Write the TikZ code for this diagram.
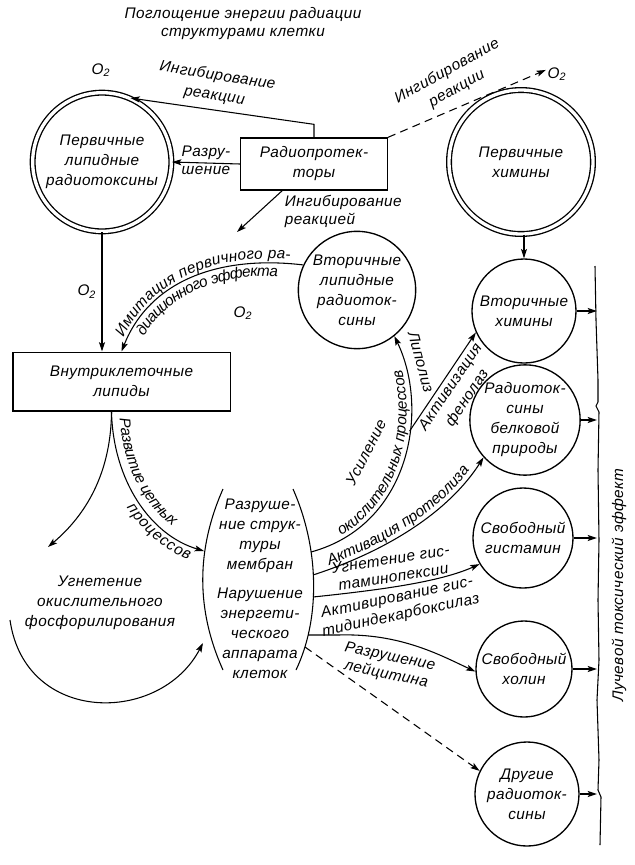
\documentclass[tikz,border=0pt]{standalone}
\usepackage{fontspec}
\setmainfont{Liberation Sans}[LetterSpace=3]
\usepackage{tikz}
\usetikzlibrary{arrows.meta, calc}
\usetikzlibrary{decorations.text}
\newcommand{\lblfont}{\fontsize{11.5}{15}\selectfont\itshape}
\newcommand{\tghtfont}{\fontsize{11.5}{13.5}\selectfont\itshape}

\begin{document}
\begin{tikzpicture}[% styles used in image code, units are pixels of the scan
           x = 0.75pt, y = -0.75pt,
  line width = 0.8pt,
           > = {Stealth[length=7pt, width=4.5pt, inset=1.5pt]},
   lbl/.style = {font=\lblfont, align=center, inner sep=1pt},
  tght/.style = {font=\tghtfont, align=center, inner sep=1pt},
  circ/.style = {circle, draw, line width=1pt, minimum size=#1,
                 inner sep=0pt, font=\lblfont, align=center},
 dcirc/.style = {circ=#1, double, double distance=2.5pt},
   box/.style = {draw, line width=1pt, font=\lblfont, align=center, inner sep=0pt},
 dashd/.style = {dash pattern=on 6pt off 4pt},
ontext/.style 2 args = {decorate,
                        decoration={text along path, text align=center,
                                    raise=#1, text={|\lblfont|#2}}}
                    ]
	\useasboundingbox (0,0) rectangle (635,865);

	% top row
	\node[lbl, font=\fontsize{11.5}{13.5}\selectfont\itshape] (title) at (243,24)
	     {Поглощение энергии радиации\\структурами клетки};
	\node[lbl] (o2a) at (101,70) {O\textsubscript{2}};
	\node[dcirc=104pt] (plr) at (102,162) {Первичные\\липидные\\радиотоксины};
	\node[box, minimum width=110pt, minimum height=39pt] (rp) at (314,164) {Радиопротек-\\торы};
	\node[dcirc=108pt] (phim) at (521,162) {Первичные\\химины};
	\node[lbl] (o2b) at (557,74) {O\textsubscript{2}};

	% circles on the right
	\node[circ=88pt] (vlr)  at (357,290) {Вторичные\\липидные\\радиоток-\\сины};
	\node[circ=78pt] (vhim) at (524,311) {Вторичные\\химины};
	\node[circ=78pt] (rbel) at (525,420) {Радиоток-\\сины\\белковой\\природы};
	\node[circ=75pt] (sgis) at (523,538) {Свободный\\гистамин};
	\node[circ=72pt] (shol) at (524,669) {Свободный\\холин};
	\node[circ=78pt] (drug) at (527,794) {Другие\\радиоток-\\сины};

	% left and middle
	\node[box, minimum width=163pt, minimum height=44pt] (vkl) at (121.5,381.5)
	     {Внутриклеточные\\липиды};
	\node[lbl] (o2c) at (243,313) {O\textsubscript{2}};
	\node[lbl] (ugn) at (100,603) {Угнетение\\окислительного\\фосфорилирования};
	\node[lbl] (mem) at (260,536) {Разруше-\\ние струк-\\туры\\мембран};
	\node[lbl] (nrg) at (260,633) {Нарушение\\энергети-\\ческого\\аппарата\\клеток};

	% lens round the membrane text
	\draw (223,489) .. controls (196,550) and (196,610) .. (223,670);
	\draw (293,489) .. controls (320,550) and (320,620) .. (296,670);

	% radioprotectors
	\draw[->] (rp.north) -- ++(0,-13) -- (plr.66);
	\node[lbl, rotate=-9] (inh1) at (216,86) {Ингибирование\\реакции};
	\draw[->] (rp.west) -- (plr.east)
	     node[lbl, midway, above=1pt] {Разру-}
	     node[lbl, midway, below=1pt] {шение};
	\coordinate (ir) at (237,232);
	\draw[->] (rp.-140) -- (ir);
	\node[lbl, align=left, anchor=west, font=\fontsize{11.5}{13.5}\selectfont\itshape]
	     (inh2) at (283,211) {Ингибирование\\реакцией};
	\draw[->, dashd] (rp.north east) -- (o2b.160);
	\node[lbl, rotate=29] (inh3) at (452,80) {Ингибирование\\реакции};

	\draw[->] (vhim.north |- phim.south) -- (vhim.north);
	\draw[->] (plr.south) -- (plr.south |- vkl.north)
	     node[lbl, midway, left=3pt] {O\textsubscript{2}};

	% imitation of the primary effect
	\draw[->] (vlr.155) .. controls (220,255) and (150,280) .. (vkl.north);
	\path[ontext={3pt}{Имитация первичного ра-}]
	     (vkl.north) .. controls (150,280) and (220,255) .. (vlr.155);
	\path[ontext={-10pt}{диационного эффекта}]
	     (vkl.north) .. controls (150,280) and (220,255) .. (vlr.155);

	% chain processes
	\coordinate (vs) at ([xshift=-7.5pt]vkl.south);
	\coordinate (ml) at (204,551);
	\coordinate (ul) at (48,547);
	\draw[->] (vs) .. controls (113,480) and (150,535) .. (ml);
	\draw[->] (vs) .. controls (111,480) and (80,520) .. (ul);
	\path[decorate, decoration={text along path, text align={left, left indent=6pt},
	      raise=6pt, text={|\lblfont|Развитие цепных}}]
	     (vs) .. controls (113,480) and (150,535) .. (ml);
	\path[decorate, decoration={text along path, text align={right, right indent=8pt},
	      raise=-10pt, text={|\lblfont|процессов}}]
	     (vs) .. controls (113,480) and (150,535) .. (ml);
	\coordinate (ua) at (10,620);
	\coordinate (ub) at (203,643);
	\draw[->] (ua) .. controls (25,725) and (160,725) .. (ub);

	% from the lens to the right
	\coordinate (la) at (311,552);
	\coordinate (lc) at (313,575);
	\coordinate (ld) at (313,597);
	\coordinate (le) at (308,635);
	\coordinate (lf) at (305,647);

	\draw[->] (la) .. controls (410,525) and (430,410) .. (vlr.-51) coordinate[pos=0.62] (br);
	\path[ontext={3pt}{окислительных процессов}]
	     (la) .. controls (410,525) and (430,410) .. (vlr.-51);
	\node[lbl, rotate=63] (usl) at (366,452) {Усиление};
	\node[lbl, rotate=-75] (lip) at (421,362) {Липолиз};
	\draw[->] (br) -- (vhim.204)
	     node[lbl, midway, sloped, below, inner sep=2pt] {Активизация\\фенолаз};

	\draw[->] (lc) .. controls (390,550) and (450,510) .. (rbel.222);
	\path[ontext={3pt}{Активация протеолиза}]
	     (lc) .. controls (390,550) and (450,510) .. (rbel.222);

	\draw[->] (ld) .. controls (380,590) and (440,582) .. (sgis.211);
	\node[tght, rotate=9]  (ugis) at (392,568) {Угнетение гис-\\таминопексии};
	\node[tght, rotate=12] (agis) at (399,607) {Активирование гис-\\тидиндекарбоксилаз};

	\draw[->] (le) -- ++(30,0) .. controls (400,633) and (440,655) .. (shol.183);
	\node[tght, rotate=-12] (lec) at (388,666) {Разрушение\\лейцитина};

	\draw[->, dashd] (lf) -- (drug.154);

	% toxic effect line
	\coordinate (wall) at (597,0);
	\draw (595,266) -- (596,320) -- (598,380) -- (598,402) -- (596,406) -- (599,412)
	   -- (598,470) -- (599,540) -- (598,600) -- (599,660) -- (597,700) -- (599,760)
	   -- (598,790) -- (601,797) -- (600,845);
	\node[lbl, rotate=90] (eff) at (619,585) {Лучевой токсический эффект};
	\foreach \c in {vhim, rbel, sgis, shol, drug}
		\draw[->] (\c.east) -- (\c.east -| wall);
\end{tikzpicture}
\end{document}
